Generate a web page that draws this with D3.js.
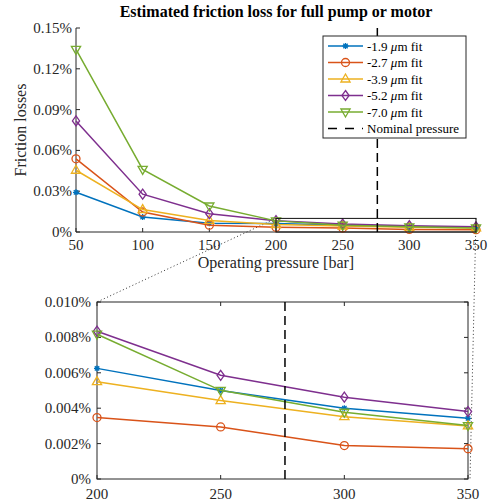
<!DOCTYPE html>
<html>
<head>
<meta charset="utf-8">
<script src="https://cdn.jsdelivr.net/npm/d3@7"></script>
<style>
  body { margin: 0; background: #fff; }
  svg { display: block; font-family: "Liberation Serif", "Times New Roman", serif; }
</style>
</head>
<body>
<div id="vis"></div>
<script>
// valores (en %)
const pressures = [50, 100, 150, 200, 250, 300, 350];
const fit19 = [0.0292, 0.0110, 0.0065, 0.00625, 0.00500, 0.00400, 0.00343];
const fit27 = [0.0538, 0.0147, 0.0050, 0.00347, 0.00294, 0.00189, 0.00171];
const fit39 = [0.0454, 0.0165, 0.0085, 0.00550, 0.00443, 0.00352, 0.00300];
const fit52 = [0.0817, 0.0278, 0.0135, 0.00835, 0.00586, 0.00462, 0.00381];
const fit70 = [0.1343, 0.0460, 0.0191, 0.00818, 0.00501, 0.00377, 0.00302];
const seriesNames = ["-1.9", "-2.7", "-3.9", "-5.2", "-7.0"];
const nominalPressure = 276;

const topYTicks = [0, 0.03, 0.06, 0.09, 0.12, 0.15];
const topXTicks = [50, 100, 150, 200, 250, 300, 350];
const botYTicks = [0, 0.002, 0.004, 0.006, 0.008, 0.010];
const botXTicks = [200, 250, 300, 350];

const WIDTH = 488;
const HEIGHT = 504;
const AXIS_COLOR = "#262626";
const colors = ["#0072BD", "#D95319", "#EDB120", "#7E2F8E", "#77AC30"];
const markers = ["star", "circle", "up", "diamond", "down"];
const allSeries = [fit19, fit27, fit39, fit52, fit70];

const SVG = d3.select("#vis").append("svg")
  .attr("width", WIDTH).attr("height", HEIGHT);

// escalas
const xTop = d3.scaleLinear().domain([50, 350]).range([76, 476]);
const yTop = d3.scaleLinear().domain([0, 0.15]).range([232, 28]);
const xBot = d3.scaleLinear().domain([200, 350]).range([97, 468]);
const yBot = d3.scaleLinear().domain([0, 0.010]).range([479, 302]);

function markerPath(type) {
  switch (type) {
    case "circle": return "M4,0A4,4 0 1,1 -4,0A4,4 0 1,1 4,0Z";
    case "up": return "M0,-5L4.6,3L-4.6,3Z";
    case "down": return "M0,5L4.6,-3L-4.6,-3Z";
    case "diamond": return "M0,-5L3.6,0L0,5L-3.6,0Z";
    case "star": return "M-3,0L3,0M0,-3L0,3M-2.2,-2.2L2.2,2.2M-2.2,2.2L2.2,-2.2";
  }
}

function drawSeries(g, x, y, minP) {
  allSeries.forEach(function(vals, i) {
    const pts = pressures.map((p, j) => [p, vals[j]]).filter(d => d[0] >= minP);
    g.append("path")
      .datum(pts)
      .attr("fill", "none")
      .attr("stroke", colors[i])
      .attr("stroke-width", 1.5)
      .attr("d", d3.line().x(d => x(d[0])).y(d => y(d[1])));
    g.selectAll(".m" + i)
      .data(pts)
      .enter().append("path")
      .attr("transform", d => `translate(${x(d[0])},${y(d[1])})`)
      .attr("d", markerPath(markers[i]))
      .attr("fill", "none")
      .attr("stroke", colors[i])
      .attr("stroke-width", 1.3);
  });
}

function fmtTop(v) { return v === 0 ? "0%" : d3.format(".2f")(v) + "%"; }
function fmtBot(v) { return v === 0 ? "0%" : d3.format(".3f")(v) + "%"; }

// lineas punteadas del zoom (debajo de todo)
SVG.append("line")
  .attr("x1", xTop(200)).attr("y1", yTop(0.01))
  .attr("x2", xBot(200)).attr("y2", yBot(0.010))
  .attr("stroke", "#333").attr("stroke-width", 1)
  .attr("stroke-dasharray", "1,2.5");
SVG.append("line")
  .attr("x1", xTop(350)).attr("y1", yTop(0.01))
  .attr("x2", xBot(350) + 2).attr("y2", yBot(0))
  .attr("stroke", "#333").attr("stroke-width", 1)
  .attr("stroke-dasharray", "1,2.5");

// ---------- grafico superior ----------
const gTop = SVG.append("g");

// ejes
gTop.append("line")
  .attr("x1", xTop(50)).attr("x2", xTop(350))
  .attr("y1", yTop(0)).attr("y2", yTop(0))
  .attr("stroke", AXIS_COLOR);
gTop.append("line")
  .attr("x1", xTop(50)).attr("x2", xTop(50))
  .attr("y1", yTop(0)).attr("y2", yTop(0.15))
  .attr("stroke", AXIS_COLOR);

gTop.selectAll(".xt").data(topXTicks).enter().append("line")
  .attr("x1", d => xTop(d)).attr("x2", d => xTop(d))
  .attr("y1", yTop(0)).attr("y2", yTop(0) - 4)
  .attr("stroke", AXIS_COLOR);
gTop.selectAll(".xl").data(topXTicks).enter().append("text")
  .attr("x", d => xTop(d)).attr("y", yTop(0) + 18)
  .attr("text-anchor", "middle")
  .attr("font-size", 15).attr("fill", AXIS_COLOR)
  .text(d => d);

gTop.selectAll(".yt").data(topYTicks).enter().append("line")
  .attr("x1", xTop(50)).attr("x2", xTop(50) + 4)
  .attr("y1", d => yTop(d)).attr("y2", d => yTop(d))
  .attr("stroke", AXIS_COLOR);
gTop.selectAll(".yl").data(topYTicks).enter().append("text")
  .attr("x", xTop(50) - 4).attr("y", d => yTop(d) + 5)
  .attr("text-anchor", "end")
  .attr("font-size", 15).attr("fill", AXIS_COLOR)
  .text(d => fmtTop(d));

drawSeries(gTop, xTop, yTop, 50);

// rectangulo del zoom
gTop.append("rect")
  .attr("x", xTop(200)).attr("y", yTop(0.01))
  .attr("width", xTop(350) - xTop(200))
  .attr("height", yTop(0) - yTop(0.01))
  .attr("fill", "none").attr("stroke", "#111").attr("stroke-width", 1);

// presion nominal
gTop.append("line")
  .attr("x1", xTop(nominalPressure)).attr("x2", xTop(nominalPressure))
  .attr("y1", yTop(0)).attr("y2", yTop(0.15))
  .attr("stroke", "#000").attr("stroke-width", 1.5)
  .attr("stroke-dasharray", "9,5");

// titulo y etiquetas
SVG.append("text")
  .attr("x", (xTop(50) + xTop(350)) / 2).attr("y", 17)
  .attr("text-anchor", "middle")
  .attr("font-size", 16).attr("font-weight", "bold").attr("fill", "#000")
  .text("Estimated friction loss for full pump or motor");

SVG.append("text")
  .attr("x", (xTop(50) + xTop(350)) / 2).attr("y", 268)
  .attr("text-anchor", "middle")
  .attr("font-size", 16).attr("fill", AXIS_COLOR)
  .text("Operating pressure [bar]");

SVG.append("text")
  .attr("transform", `translate(26,${(yTop(0) + yTop(0.15)) / 2}) rotate(-90)`)
  .attr("text-anchor", "middle")
  .attr("font-size", 16).attr("fill", AXIS_COLOR)
  .text("Friction losses");

// leyenda
const legend = SVG.append("g").attr("transform", "translate(323,36)");
legend.append("rect")
  .attr("width", 143).attr("height", 102)
  .attr("fill", "#fff").attr("stroke", AXIS_COLOR).attr("stroke-width", 1);

seriesNames.forEach(function(name, i) {
  const yy = 10 + i * 16.5;
  legend.append("line")
    .attr("x1", 5).attr("x2", 40).attr("y1", yy).attr("y2", yy)
    .attr("stroke", colors[i]).attr("stroke-width", 1.5);
  legend.append("path")
    .attr("transform", `translate(22.5,${yy})`)
    .attr("d", markerPath(markers[i]))
    .attr("fill", "none").attr("stroke", colors[i]).attr("stroke-width", 1.3);
  const t = legend.append("text")
    .attr("x", 44).attr("y", yy + 4.5)
    .attr("font-size", 13).attr("fill", "#000");
  t.append("tspan").text(name + " ");
  t.append("tspan").attr("font-style", "italic").text("\u03bc");
  t.append("tspan").text("m fit");
});
{
  const yy = 10 + 5 * 16.5;
  legend.append("line")
    .attr("x1", 5).attr("x2", 40).attr("y1", yy).attr("y2", yy)
    .attr("stroke", "#000").attr("stroke-width", 1.5)
    .attr("stroke-dasharray", "9,8");
  legend.append("text")
    .attr("x", 44).attr("y", yy + 4.5)
    .attr("font-size", 13).attr("fill", "#000")
    .text("Nominal pressure");
}

// ---------- grafico inferior ----------
const gBot = SVG.append("g");

gBot.append("rect")
  .attr("x", xBot(200)).attr("y", yBot(0.010))
  .attr("width", xBot(350) - xBot(200))
  .attr("height", yBot(0) - yBot(0.010))
  .attr("fill", "#fff").attr("stroke", AXIS_COLOR).attr("stroke-width", 1);

gBot.selectAll(".xt").data(botXTicks).enter().append("line")
  .attr("x1", d => xBot(d)).attr("x2", d => xBot(d))
  .attr("y1", yBot(0)).attr("y2", yBot(0) - 4)
  .attr("stroke", AXIS_COLOR);
gBot.selectAll(".xt2").data(botXTicks).enter().append("line")
  .attr("x1", d => xBot(d)).attr("x2", d => xBot(d))
  .attr("y1", yBot(0.010)).attr("y2", yBot(0.010) + 4)
  .attr("stroke", AXIS_COLOR);
gBot.selectAll(".xl").data(botXTicks).enter().append("text")
  .attr("x", d => xBot(d)).attr("y", yBot(0) + 20)
  .attr("text-anchor", "middle")
  .attr("font-size", 15).attr("fill", AXIS_COLOR)
  .text(d => d);

gBot.selectAll(".yt").data(botYTicks).enter().append("line")
  .attr("x1", xBot(200)).attr("x2", xBot(200) + 4)
  .attr("y1", d => yBot(d)).attr("y2", d => yBot(d))
  .attr("stroke", AXIS_COLOR);
gBot.selectAll(".yt2").data(botYTicks).enter().append("line")
  .attr("x1", xBot(350)).attr("x2", xBot(350) - 4)
  .attr("y1", d => yBot(d)).attr("y2", d => yBot(d))
  .attr("stroke", AXIS_COLOR);
gBot.selectAll(".yl").data(botYTicks).enter().append("text")
  .attr("x", xBot(200) - 6).attr("y", d => yBot(d) + 5)
  .attr("text-anchor", "end")
  .attr("font-size", 15).attr("fill", AXIS_COLOR)
  .text(d => fmtBot(d));

drawSeries(gBot, xBot, yBot, 200);

gBot.append("line")
  .attr("x1", xBot(nominalPressure)).attr("x2", xBot(nominalPressure))
  .attr("y1", yBot(0)).attr("y2", yBot(0.010))
  .attr("stroke", "#000").attr("stroke-width", 1.5)
  .attr("stroke-dasharray", "9,5");
</script>
</body>
</html>
